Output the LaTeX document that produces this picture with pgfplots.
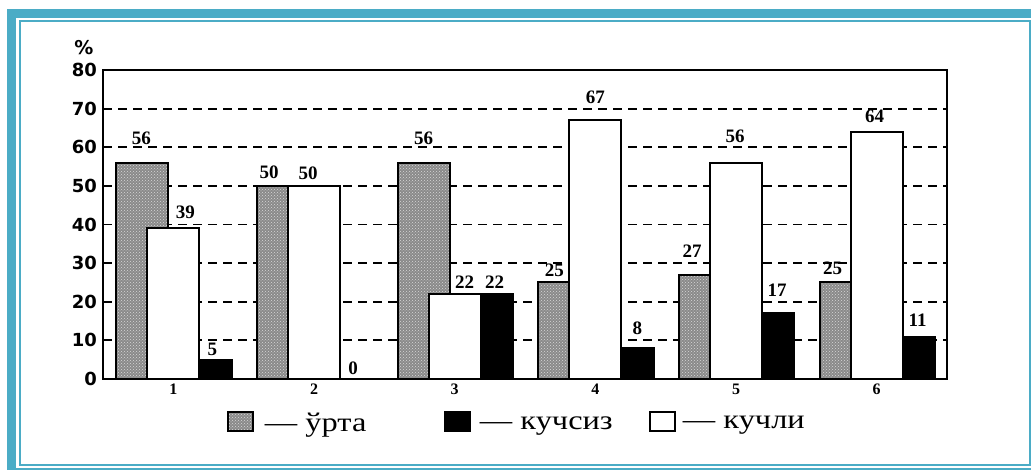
\documentclass[border=0pt]{standalone}
\usepackage{fontspec}
\setmainfont{Liberation Serif}
\newfontfamily\tickfont{DejaVu Sans}
\newfontfamily\legfont[FakeStretch=1.2]{Liberation Serif}
\usepackage{pgfplots}
\pgfplotsset{compat=1.18}
\usepackage{pgfplotstable}
\usetikzlibrary{patterns}
\definecolor{framecol}{HTML}{4BACC6}
\definecolor{midgrey}{HTML}{8A8A8A}

% x = group, y = value, dx/dy = label offset (pt)
\pgfplotstableread{
x y dx dy
1 56 -32 24
2 50 -45 14
3 56 -31 24
4 25 -41 12
5 27 -44 23
6 25 -44 14
}\greytab
\pgfplotstableread{
x y dx dy
1 39 12 16
2 50 -6 13
3 22 10 12
4 67 0 23
5 56 -1 26
6 64 -2 15
}\whitetab
\pgfplotstableread{
x y dx dy
1 5 39 10
2 0 39 11
3 22 40 12
4 8 42 20
5 17 41 23
6 11 41 16
}\blacktab

\pgfplotsset{
  lbl/.style={
    nodes near coords,
    visualization depends on={\thisrow{dx} \as \dx},
    visualization depends on={\thisrow{dy} \as \dy},
    every node near coord/.append style={anchor=center, inner sep=0pt,
      xshift=\dx pt, yshift=\dy pt, text=black,
      font=\bfseries\fontsize{19}{19}\selectfont},
  },
}

\begin{document}
\begin{tikzpicture}
\path[use as bounding box] (0pt,0pt) rectangle (1031pt,470pt);
\begin{scope}
\clip (0pt,0pt) rectangle (1031pt,470pt);
\draw[framecol, line width=9pt] (11.5pt,456.5pt) rectangle (1045pt,-3pt);
\end{scope}
\draw[framecol, line width=2pt] (19.5pt,449pt) rectangle (1029.5pt,5pt);

\begin{axis}[
  at={(103pt,91pt)}, anchor=south west,
  width=844pt, height=309pt, scale only axis,
  xmin=0.5, xmax=6.5, ymin=0, ymax=80,
  xtick={1,...,6}, ytick={0,10,...,80},
  ymajorgrids,
  grid style={dash pattern=on 9pt off 6pt, line width=1.8pt, black},
  axis line style={line width=2pt},
  major tick length=0pt,
  /pgf/number format/assume math mode=true,
  yticklabel style={font=\tickfont\bfseries\fontsize{18}{18}\selectfont,
    anchor=east, inner sep=0pt, xshift=-6pt},
  xticklabel style={font=\bfseries\fontsize{16}{16}\selectfont,
    anchor=north, inner sep=0pt, yshift=-5pt},
  ylabel={\%},
  ylabel style={at={(axis description cs:0,1)}, rotate=-90, anchor=center,
    xshift=-19pt, yshift=22pt, font=\tickfont\bfseries\fontsize{19}{19}\selectfont},
  legend style={draw=none, fill=none, inner sep=0pt, outer sep=0pt,
    legend columns=3, at={(axis description cs:0.1469,-0.105)}, anchor=north west,
    font=\legfont\fontsize{27}{27}\selectfont,
    nodes={inner sep=0pt}},
  legend cell align=left,
]
% grey
\addplot[ybar, forget plot, bar width=0.37, bar shift=-0.22, draw=black,
  line width=2pt, fill=midgrey, lbl] table[x=x,y=y]{\greytab};
\addplot[ybar, forget plot, bar width=0.37, bar shift=-0.22, draw=black,
  line width=2pt, pattern=crosshatch dots, pattern color=gray!30] table[x=x,y=y]{\greytab};
% white
\addplot[ybar, forget plot, bar width=0.37, bar shift=0, draw=black,
  line width=2pt, fill=white, lbl] table[x=x,y=y]{\whitetab};
% black
\addplot[ybar, forget plot, bar width=0.227, bar shift=0.30, draw=black,
  line width=2pt, fill=black, lbl] table[x=x,y=y]{\blacktab};

\addlegendimage{legend image code/.code={
  \draw[fill=midgrey, line width=2pt] (0pt,-8pt) rectangle (25pt,11pt);
  \draw[pattern=crosshatch dots, pattern color=gray!30, line width=2pt] (0pt,-8pt) rectangle (25pt,11pt);}}
\addlegendentry{\makebox[190pt][l]{\hspace{11pt}—\ ўрта}}
\addlegendimage{legend image code/.code={
  \draw[fill=black, line width=2pt] (0pt,-8pt) rectangle (25pt,11pt);}}
\addlegendentry{\makebox[178pt][l]{\hspace{9pt}— кучсиз}}
\addlegendimage{legend image code/.code={
  \draw[fill=white, line width=2pt] (0pt,-8pt) rectangle (25pt,11pt);}}
\addlegendentry{\hspace{7pt}— кучли}
\end{axis}
\end{tikzpicture}
\end{document}
